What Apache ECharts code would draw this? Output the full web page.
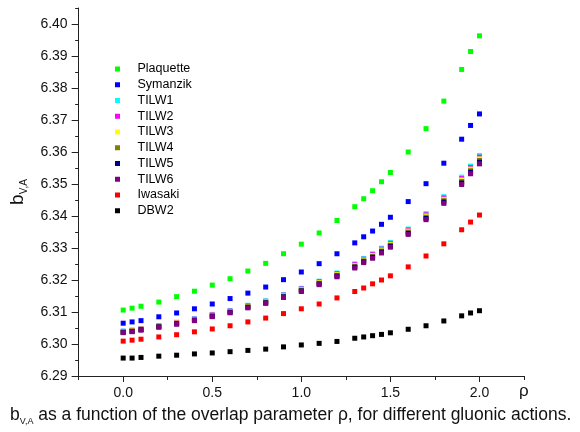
<!DOCTYPE html>
<html>
<head>
<meta charset="utf-8">
<script src="https://cdn.jsdelivr.net/npm/echarts@6/dist/echarts.min.js"></script>
<style>html,body{margin:0;padding:0;background:#fff;}#c{width:580px;height:432px;}</style>
</head>
<body>
<div id="c"></div>
<script>
const rho = [0, 0.05, 0.1, 0.2, 0.3, 0.4, 0.5, 0.6, 0.7, 0.8, 0.9, 1.0, 1.1, 1.2, 1.3, 1.35, 1.4, 1.45, 1.5, 1.6, 1.7, 1.8, 1.9, 1.95, 2.0];
const plaquette = [6.3106, 6.3112, 6.3118, 6.3131, 6.3148, 6.3165, 6.3184, 6.3204, 6.3228, 6.3252, 6.3282, 6.3312, 6.3347, 6.3386, 6.3429, 6.3454, 6.3479, 6.3507, 6.3536, 6.3600, 6.3673, 6.3759, 6.3858, 6.3914, 6.3963];
const symanzik = [6.3065, 6.3069, 6.3073, 6.3085, 6.3097, 6.3110, 6.3125, 6.3142, 6.3159, 6.3178, 6.3201, 6.3225, 6.3251, 6.3282, 6.3316, 6.3335, 6.3353, 6.3374, 6.3396, 6.3445, 6.3501, 6.3565, 6.3640, 6.3683, 6.3719];
const tilw1 = [6.30405, 6.30435, 6.30485, 6.30575, 6.3068, 6.3079, 6.30925, 6.31045, 6.3121, 6.3135, 6.31545, 6.3174, 6.31965, 6.3222, 6.32505, 6.32675, 6.3282, 6.32995, 6.33175, 6.33595, 6.34075, 6.34605, 6.35215, 6.3556, 6.3589];
const tilw2 = [6.30395, 6.30425, 6.30475, 6.30565, 6.30668, 6.30778, 6.30911, 6.31031, 6.31194, 6.31334, 6.31527, 6.3172, 6.31943, 6.32196, 6.32479, 6.32649, 6.32792, 6.32965, 6.33145, 6.33561, 6.34037, 6.34563, 6.35169, 6.35512, 6.35838];
const tilw3 = [6.30385, 6.30415, 6.30465, 6.30555, 6.30656, 6.30766, 6.30897, 6.31017, 6.31178, 6.31318, 6.31509, 6.317, 6.31921, 6.32172, 6.32453, 6.32623, 6.32764, 6.32935, 6.33115, 6.33527, 6.33999, 6.34521, 6.35123, 6.35464, 6.35786];
const tilw4 = [6.30375, 6.30405, 6.30455, 6.30545, 6.30644, 6.30754, 6.30883, 6.31003, 6.31162, 6.31302, 6.31491, 6.3168, 6.31899, 6.32148, 6.32427, 6.32597, 6.32736, 6.32905, 6.33085, 6.33493, 6.33961, 6.34479, 6.35077, 6.35416, 6.35734];
const tilw5 = [6.30365, 6.30395, 6.30445, 6.30535, 6.30632, 6.30742, 6.30869, 6.30989, 6.31146, 6.31286, 6.31473, 6.3166, 6.31877, 6.32124, 6.32401, 6.32571, 6.32708, 6.32875, 6.33055, 6.33459, 6.33923, 6.34437, 6.35031, 6.35368, 6.35682];
const tilw6 = [6.30355, 6.30385, 6.30435, 6.30525, 6.3062, 6.3073, 6.30855, 6.30975, 6.3113, 6.3127, 6.31455, 6.3164, 6.31855, 6.321, 6.32375, 6.32545, 6.3268, 6.32845, 6.33025, 6.33425, 6.33885, 6.34395, 6.34985, 6.3532, 6.3563];
const iwasaki = [6.3009, 6.3012, 6.3015, 6.3022, 6.3029, 6.3038, 6.3047, 6.3057, 6.3069, 6.3081, 6.3095, 6.3110, 6.3125, 6.3144, 6.3164, 6.3175, 6.3188, 6.3200, 6.3213, 6.3241, 6.3275, 6.3313, 6.3357, 6.3381, 6.3403];
const dbw2 = [6.2956, 6.2956, 6.2958, 6.2962, 6.2965, 6.2969, 6.2972, 6.2976, 6.2980, 6.2984, 6.2991, 6.2997, 6.3002, 6.3008, 6.3018, 6.3022, 6.3026, 6.3030, 6.3035, 6.3046, 6.3057, 6.3072, 6.3088, 6.3097, 6.3104];

const seriesNames = ['Plaquette', 'Symanzik', 'TILW1', 'TILW2', 'TILW3', 'TILW4', 'TILW5', 'TILW6', 'Iwasaki', 'DBW2'];
const seriesValues = [plaquette, symanzik, tilw1, tilw2, tilw3, tilw4, tilw5, tilw6, iwasaki, dbw2];
const seriesColors = ['#00ff00', '#0000ff', '#00ffff', '#ff00ff', '#ffff00', '#808000', '#000080', '#800080', '#ff0000', '#000000'];

const xTickLabels = [0, 0.5, 1.0, 1.5, 2.0];
const yTickLabels = [6.29, 6.30, 6.31, 6.32, 6.33, 6.34, 6.35, 6.36, 6.37, 6.38, 6.39, 6.40];

const FONT = 'Liberation Sans, Arial, sans-serif';
const AX = '#222';

const chart = echarts.init(document.getElementById('c'), null, {renderer: 'canvas'});
chart.setOption({
  animation: false,
  backgroundColor: '#fff',
  grid: {left: 73, right: 56, top: 8, bottom: 56, containLabel: false},
  legend: {
    orient: 'vertical',
    left: 110, top: 57,
    icon: 'path://M0,0h10v10h-10z',
    itemWidth: 30, itemHeight: 5, itemGap: 1.75,
    textStyle: {fontFamily: FONT, fontSize: 12.5, color: '#000', lineHeight: 14},
    data: seriesNames
  },
  xAxis: [{
    type: 'value', min: -0.25, max: 2.25, position: 'bottom',
    splitLine: {show: false},
    axisLine: {show: true, onZero: false, lineStyle: {color: AX, width: 1}},
    axisTick: {show: true, customValues: xTickLabels, length: 6, lineStyle: {color: AX}},
    axisLabel: {customValues: xTickLabels, formatter: v => v.toFixed(1), fontFamily: FONT, fontSize: 14, color: '#111', margin: 10},
    name: 'ρ', nameLocation: 'end', nameGap: -5,
    nameTextStyle: {fontFamily: FONT, fontSize: 17, color: '#111', verticalAlign: 'top', padding: [7, 0, 0, 0]}
  }, {
    type: 'value', min: -0.25, max: 2.25, interval: 0.25, position: 'bottom',
    splitLine: {show: false},
    axisLine: {show: false, onZero: false},
    axisTick: {show: true, length: 4, lineStyle: {color: AX}},
    axisLabel: {show: false}
  }],
  yAxis: [{
    type: 'value', min: 6.29, max: 6.405, position: 'left',
    splitLine: {show: false},
    axisLine: {show: true, onZero: false, lineStyle: {color: AX, width: 1}},
    axisTick: {show: true, customValues: yTickLabels, length: 7, lineStyle: {color: AX}},
    axisLabel: {customValues: yTickLabels, formatter: v => v.toFixed(2), fontFamily: FONT, fontSize: 14, color: '#111', margin: 11},
    name: '{b|b}{s|V,A}', nameLocation: 'middle', nameRotate: 90, nameGap: 48,
    nameTextStyle: {
      fontFamily: FONT, color: '#111',
      rich: {
        b: {fontFamily: FONT, fontSize: 19, color: '#111', lineHeight: 24, verticalAlign: 'middle'},
        s: {fontFamily: FONT, fontSize: 10, color: '#111', lineHeight: 24, verticalAlign: 'bottom'}
      }
    }
  }, {
    type: 'value', min: 6.29, max: 6.405, interval: 0.005, position: 'left',
    splitLine: {show: false},
    axisLine: {show: false, onZero: false},
    axisTick: {show: true, length: 3.5, lineStyle: {color: AX}},
    axisLabel: {show: false}
  }],
  graphic: [{
    type: 'text', left: 10, top: 406,
    style: {
      text: '{b|b}{s|V,A}{t| as a function of the overlap parameter ρ, for different gluonic actions.}',
      rich: {
        b: {fontFamily: FONT, fontSize: 17.5, fill: '#111', lineHeight: 22, verticalAlign: 'middle'},
        s: {fontFamily: FONT, fontSize: 9, fill: '#111', lineHeight: 22, verticalAlign: 'bottom'},
        t: {fontFamily: FONT, fontSize: 17.5, fill: '#111', lineHeight: 22, verticalAlign: 'middle'}
      }
    }
  }],
  series: seriesNames.map((name, i) => ({
    name: name,
    type: 'scatter',
    xAxisIndex: 0, yAxisIndex: 0,
    symbol: 'rect', symbolSize: 5,
    itemStyle: {color: seriesColors[i], opacity: 1},
    emphasis: {disabled: true},
    data: rho.map((r, j) => [r, seriesValues[i][j]])
  }))
});
</script>
</body>
</html>
